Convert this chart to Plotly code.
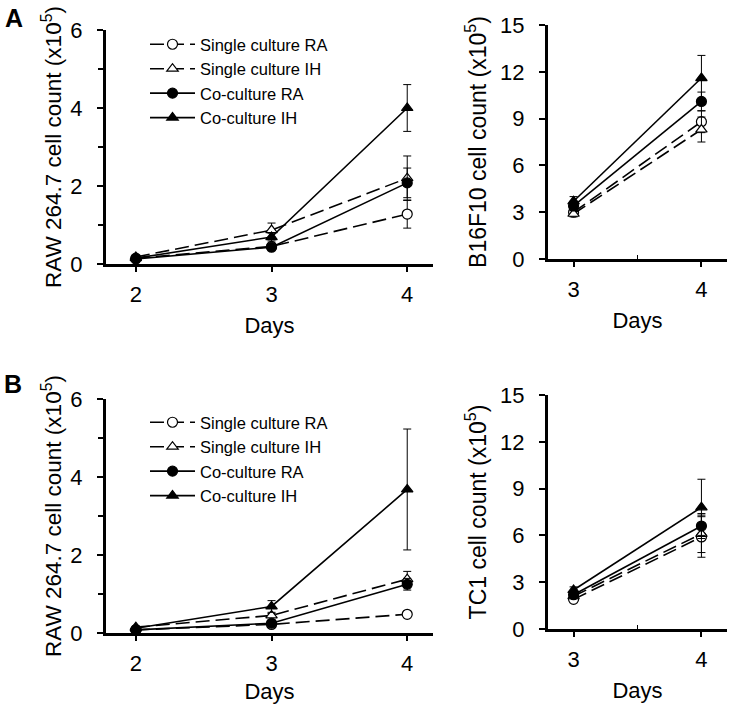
import plotly.graph_objects as go

# ---------------- data ----------------
series_names = ["Single culture RA", "Single culture IH", "Co-culture RA", "Co-culture IH"]

days_raw = [2, 3, 4]
days_tumor = [3, 4]

# Panel A left: RAW 264.7 (co-culture with B16F10)
a_raw_single_ra = [0.15, 0.45, 1.28]
a_raw_single_ih = [0.18, 0.87, 2.20]
a_raw_co_ra = [0.13, 0.43, 2.08]
a_raw_co_ih = [0.15, 0.69, 4.00]
a_raw_single_ra_err = [0.03, 0.05, 0.36]
a_raw_single_ih_err = [0.03, 0.18, 0.57]
a_raw_co_ra_err = [0.03, 0.06, 0.38]
a_raw_co_ih_err = [0.03, 0.10, 0.60]

# Panel A right: B16F10
a_b16_single_ra = [3.0, 8.8]
a_b16_single_ih = [2.9, 8.3]
a_b16_co_ra = [3.4, 10.1]
a_b16_co_ih = [3.7, 11.6]
a_b16_single_ra_err = [0.2, 0.7]
a_b16_single_ih_err = [0.2, 0.8]
a_b16_co_ra_err = [0.3, 0.6]
a_b16_co_ih_err = [0.3, 1.45]

# Panel B left: RAW 264.7 (co-culture with TC1)
b_raw_single_ra = [0.08, 0.22, 0.48]
b_raw_single_ih = [0.15, 0.45, 1.38]
b_raw_co_ra = [0.08, 0.25, 1.25]
b_raw_co_ih = [0.12, 0.68, 3.68]
b_raw_single_ra_err = [0.02, 0.03, 0.05]
b_raw_single_ih_err = [0.03, 0.05, 0.20]
b_raw_co_ra_err = [0.02, 0.05, 0.15]
b_raw_co_ih_err = [0.02, 0.15, 1.55]

# Panel B right: TC1
b_tc1_single_ra = [1.9, 5.9]
b_tc1_single_ih = [2.1, 6.1]
b_tc1_co_ra = [2.2, 6.6]
b_tc1_co_ih = [2.5, 7.8]
b_tc1_single_ra_err = [0.15, 1.3]
b_tc1_single_ih_err = [0.15, 1.2]
b_tc1_co_ra_err = [0.2, 0.8]
b_tc1_co_ih_err = [0.2, 1.8]

# ---------------- styles ----------------
FONT = "Liberation Sans, Arial, sans-serif"
W, H = 730, 704
DASH = "14px,6px"
styles = [
    dict(dash=DASH, symbol="circle", fill="white"),
    dict(dash=DASH, symbol="triangle-up", fill="white"),
    dict(dash="solid", symbol="circle", fill="black"),
    dict(dash="solid", symbol="triangle-up", fill="black"),
]

fig = go.Figure()

def add_panel(xs, ys_list, errs_list, xaxis, yaxis, legend=None):
    for i, (ys, es) in enumerate(zip(ys_list, errs_list)):
        st = styles[i]
        fig.add_trace(go.Scatter(
            x=xs, y=ys, name=series_names[i], mode="lines+markers",
            xaxis=xaxis, yaxis=yaxis,
            line=dict(color="black", width=1.6, dash=st["dash"]),
            marker=dict(symbol=st["symbol"], size=10, color=st["fill"],
                        line=dict(color="black", width=1.2)),
            error_y=dict(type="data", array=es, visible=True, color="black",
                         thickness=1, width=4),
            showlegend=legend is not None,
            legend=legend if legend else "legend",
            cliponaxis=False,
        ))

add_panel(days_raw,
          [a_raw_single_ra, a_raw_single_ih, a_raw_co_ra, a_raw_co_ih],
          [a_raw_single_ra_err, a_raw_single_ih_err, a_raw_co_ra_err, a_raw_co_ih_err],
          "x", "y", legend="legend")
add_panel(days_tumor,
          [a_b16_single_ra, a_b16_single_ih, a_b16_co_ra, a_b16_co_ih],
          [a_b16_single_ra_err, a_b16_single_ih_err, a_b16_co_ra_err, a_b16_co_ih_err],
          "x2", "y2")
add_panel(days_raw,
          [b_raw_single_ra, b_raw_single_ih, b_raw_co_ra, b_raw_co_ih],
          [b_raw_single_ra_err, b_raw_single_ih_err, b_raw_co_ra_err, b_raw_co_ih_err],
          "x3", "y3", legend="legend2")
add_panel(days_tumor,
          [b_tc1_single_ra, b_tc1_single_ih, b_tc1_co_ra, b_tc1_co_ih],
          [b_tc1_single_ra_err, b_tc1_single_ih_err, b_tc1_co_ra_err, b_tc1_co_ih_err],
          "x4", "y4")

def px_x(a, b):
    return [a / W, b / W]

def px_y(top, bottom):
    return [1 - bottom / H, 1 - top / H]

tickfont = dict(family=FONT, size=22, color="black")
titlefont = dict(family=FONT, size=22, color="black")

def xaxis_cfg(domain, anchor, rng, tickvals, minor=None):
    d = dict(domain=domain, anchor=anchor, range=rng, tickvals=tickvals,
             showline=True, linecolor="black", linewidth=3, ticks="outside",
             ticklen=5, tickwidth=2, tickcolor="black", showgrid=False,
             zeroline=False, tickfont=tickfont, ticklabelstandoff=4,
             automargin=False,
             title=dict(text="Days", font=titlefont, standoff=12))
    if minor:
        d["minor"] = minor
    return d

def yaxis_cfg(domain, anchor, rng, dtick, title, size, standoff, minor=None):
    d = dict(domain=domain, anchor=anchor, range=rng, dtick=dtick, tick0=0,
             showline=True, linecolor="black", linewidth=3, ticks="outside",
             ticklen=6, tickwidth=2, tickcolor="black", showgrid=False,
             zeroline=False, tickfont=tickfont, ticklabelstandoff=10,
             automargin=False,
             title=dict(text=title, font=dict(family=FONT, size=size, color="black"),
                        standoff=standoff))
    if minor:
        d["minor"] = minor
    return d

left_x = px_x(106, 433)
right_x = px_x(548, 727)
left_minor_y = dict(dtick=1, ticks="outside", ticklen=5, tickcolor="black", tickwidth=1.5)
right_minor_x = dict(tickvals=[3.5], ticks="inside", ticklen=4, tickcolor="black", tickwidth=1.2)

raw_title = "RAW 264.7 cell count (x10<sup>5</sup>)"

legend_font = dict(family=FONT, size=16.5, color="black")

fig.update_layout(
    width=W, height=H,
    margin=dict(l=0, r=0, t=0, b=0, autoexpand=False),
    paper_bgcolor="white", plot_bgcolor="white",
    font=dict(family=FONT, color="black"),
    xaxis=xaxis_cfg(left_x, "y", [1.78, 4.19], [2, 3, 4]),
    yaxis=yaxis_cfg(px_y(30, 264), "x", [0, 6], 2, raw_title, 22.5, 3, left_minor_y),
    xaxis2=xaxis_cfg(right_x, "y2", [2.80, 4.20], [3, 4], right_minor_x),
    yaxis2=yaxis_cfg(px_y(25, 259), "x2", [0, 15], 3, "B16F10 cell count (x10<sup>5</sup>)", 23, 8),
    xaxis3=xaxis_cfg(left_x, "y3", [1.78, 4.19], [2, 3, 4]),
    yaxis3=yaxis_cfg(px_y(399, 633), "x3", [0, 6], 2, raw_title, 22.5, 3, left_minor_y),
    xaxis4=xaxis_cfg(right_x, "y4", [2.80, 4.20], [3, 4], right_minor_x),
    yaxis4=yaxis_cfg(px_y(395, 629), "x4", [0, 15], 3, "TC1 cell count (x10<sup>5</sup>)", 23, 8),
    legend=dict(x=145 / W, y=1 - 27 / H, xanchor="left", yanchor="top", itemwidth=45,
                bgcolor="rgba(0,0,0,0)", font=legend_font),
    legend2=dict(x=145 / W, y=1 - 405 / H, xanchor="left", yanchor="top", itemwidth=45,
                 bgcolor="rgba(0,0,0,0)", font=legend_font),
    annotations=[
        dict(text="<b>A</b>", x=14 / W, y=1 - 18 / H, xref="paper", yref="paper",
             xanchor="center", yanchor="middle",
             showarrow=False, font=dict(family=FONT, size=25, color="black")),
        dict(text="<b>B</b>", x=13 / W, y=1 - 384 / H, xref="paper", yref="paper",
             xanchor="center", yanchor="middle",
             showarrow=False, font=dict(family=FONT, size=25, color="black")),
    ],
)

fig.write_html("out.html", config={"displayModeBar": False},
               post_script="document.body.style.margin='0px';")
